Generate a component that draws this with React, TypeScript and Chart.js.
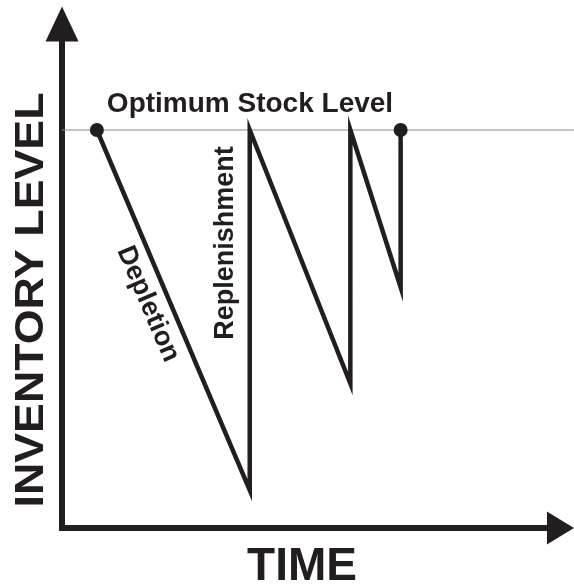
import React, { useEffect, useRef } from "react";
import { Chart, registerables } from "chart.js";

Chart.register(...registerables);

// Time (x) and inventory level (y) of the sawtooth path
const timePoints = [0.7, 3.77, 3.77, 5.79, 5.79, 6.8, 6.8];
const stockLevels = [100, 9.5, 100, 36.3, 100, 60.5, 100];
const dotRadii = [7, 0, 0, 0, 0, 0, 7];
const optimumLevel = 100;
const xAxisEnd = 10.28;
const yAxisEnd = 131;
const xMin = 0;
const xMax = 10;
const yMin = 0;
const yMax = 100;

const INK = "#221e1f";
const FONT = '"Liberation Sans", Arial, Helvetica, sans-serif';

const drawPlugin = {
  id: "inventoryDecor",
  beforeDatasetsDraw(chart: any) {
    const ctx = chart.ctx as CanvasRenderingContext2D;
    const xs = chart.scales.x;
    const ys = chart.scales.y;
    const ox = xs.getPixelForValue(0);
    const oy = ys.getPixelForValue(0);
    const yTop = ys.getPixelForValue(yAxisEnd);
    const xEnd = xs.getPixelForValue(xAxisEnd);
    ctx.save();
    ctx.strokeStyle = INK;
    ctx.fillStyle = INK;
    ctx.lineWidth = 6;
    ctx.lineCap = "butt";
    ctx.lineJoin = "miter";
    ctx.beginPath();
    ctx.moveTo(ox, yTop + 30);
    ctx.lineTo(ox, oy);
    ctx.lineTo(xEnd - 22, oy);
    ctx.stroke();
    ctx.beginPath();
    ctx.moveTo(ox, yTop);
    ctx.lineTo(ox - 16.5, yTop + 35);
    ctx.lineTo(ox + 16.5, yTop + 35);
    ctx.closePath();
    ctx.fill();
    ctx.beginPath();
    ctx.moveTo(xEnd, oy);
    ctx.lineTo(xEnd - 27, oy - 16.5);
    ctx.lineTo(xEnd - 27, oy + 16.5);
    ctx.closePath();
    ctx.fill();
    ctx.restore();
  },
  afterDatasetsDraw(chart: any) {
    const ctx = chart.ctx as CanvasRenderingContext2D;
    const xs = chart.scales.x;
    const ys = chart.scales.y;
    ctx.save();
    ctx.fillStyle = INK;
    ctx.textAlign = "center";

    ctx.font = `bold 28px ${FONT}`;
    ctx.textBaseline = "alphabetic";
    ctx.fillText("Optimum Stock Level", 250, 112);

    ctx.font = `bold 46px ${FONT}`;
    ctx.fillText("TIME", 302, 580);

    ctx.save();
    ctx.translate(43, 300);
    ctx.rotate(-Math.PI / 2);
    ctx.font = `bold 40px ${FONT}`;
    const w = ctx.measureText("INVENTORY LEVEL").width;
    ctx.scale(415 / w, 1);
    ctx.fillText("INVENTORY LEVEL", 0, 0);
    ctx.restore();

    ctx.save();
    ctx.translate(233, 243);
    ctx.rotate(-Math.PI / 2);
    ctx.font = `bold 27px ${FONT}`;
    ctx.fillText("Replenishment", 0, 0);
    ctx.restore();

    const x1 = xs.getPixelForValue(timePoints[0]);
    const y1 = ys.getPixelForValue(stockLevels[0]);
    const x2 = xs.getPixelForValue(timePoints[1]);
    const y2 = ys.getPixelForValue(stockLevels[1]);
    const ang = Math.atan2(y2 - y1, x2 - x1);
    ctx.save();
    ctx.translate(148, 304);
    ctx.rotate(ang);
    ctx.font = `bold 27px ${FONT}`;
    ctx.textBaseline = "middle";
    ctx.fillText("Depletion", 0, 0);
    ctx.restore();

    ctx.restore();
  },
};

export default function App() {
  const ref = useRef<HTMLCanvasElement | null>(null);
  useEffect(() => {
    if (!ref.current) return;
    const chart = new Chart(ref.current, {
      type: "line",
      data: {
        datasets: [
          {
            data: timePoints.map((t, i) => ({ x: t, y: stockLevels[i] })),
            borderColor: INK,
            backgroundColor: INK,
            borderWidth: 4.5,
            pointRadius: dotRadii,
            pointBackgroundColor: INK,
            pointBorderWidth: 0,
            tension: 0,
            clip: false as any,
            borderJoinStyle: "miter",
            order: 1,
          },
          {
            data: [
              { x: 0, y: optimumLevel },
              { x: xAxisEnd, y: optimumLevel },
            ],
            borderColor: "#8a8a8a",
            borderWidth: 1,
            pointRadius: 0,
            clip: false as any,
            order: 2,
          },
        ],
      },
      options: {
        responsive: false,
        animation: false,
        layout: { padding: { left: 62, right: 14, top: 130, bottom: 56 } },
        plugins: { legend: { display: false }, tooltip: { enabled: false } },
        scales: {
          x: { type: "linear", min: xMin, max: xMax, display: false },
          y: { type: "linear", min: yMin, max: yMax, display: false },
        },
      },
      plugins: [drawPlugin],
    });
    return () => chart.destroy();
  }, []);
  return (
    <div style={{ position: "fixed", left: 0, top: 0, width: 574, height: 584, background: "#fff" }}>
      <canvas ref={ref} width={574} height={584} style={{ display: "block" }} />
    </div>
  );
}
